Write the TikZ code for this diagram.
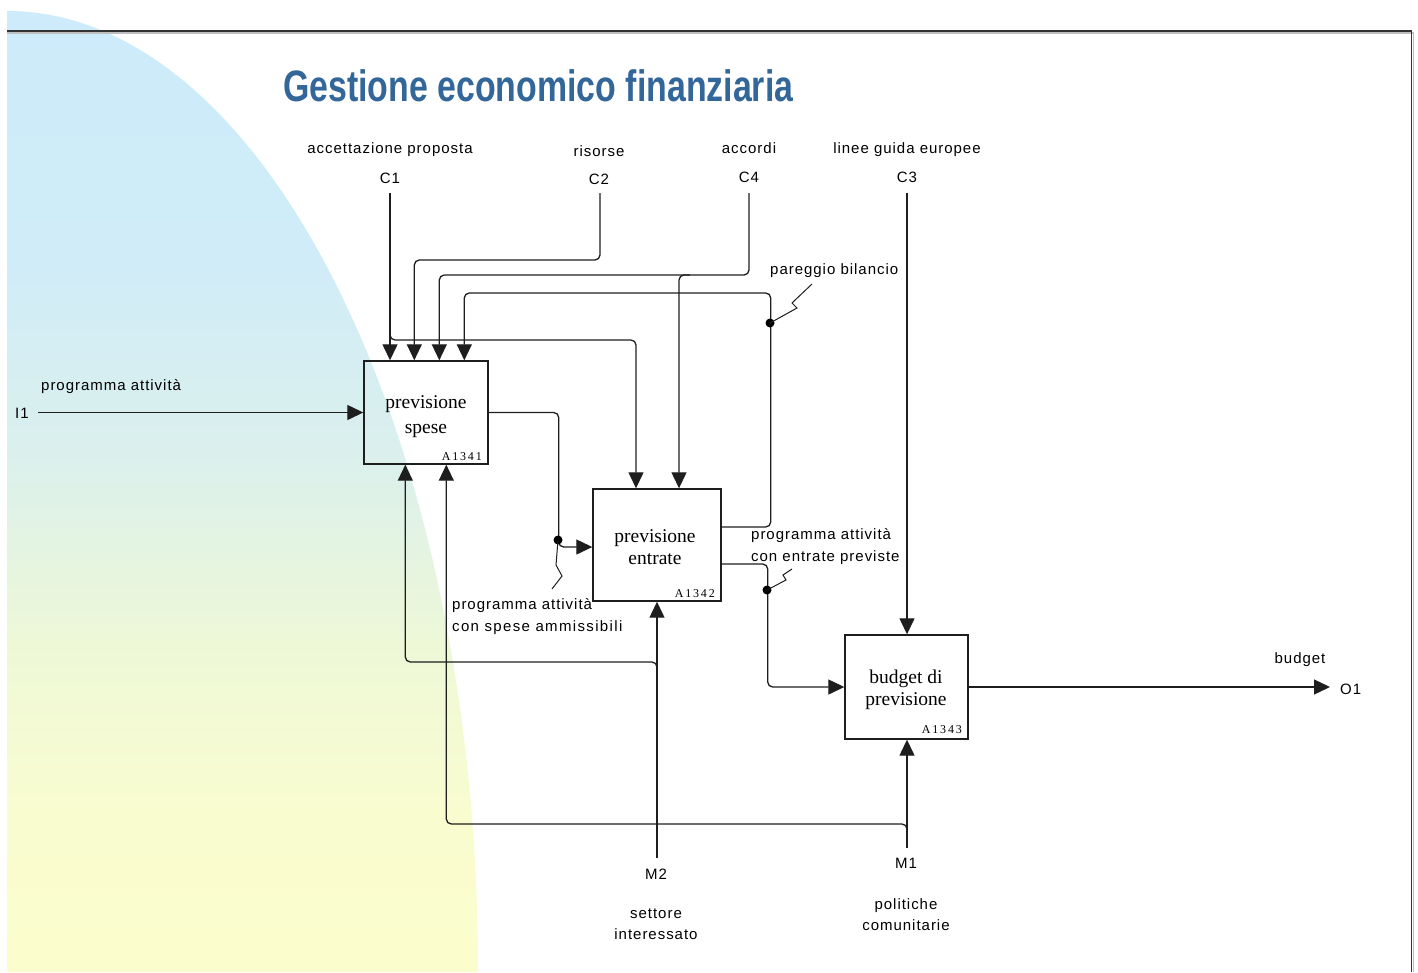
\documentclass[tikz,border=0pt]{standalone}
\usepackage{fontspec}
\usepackage{graphicx}
\setmainfont{Liberation Sans}
\newfontfamily\lblfont[LetterSpace=6.5]{Liberation Sans}
\newfontfamily\boxfont{Liberation Serif}
\newfontfamily\codefont[LetterSpace=15]{Liberation Serif}
\usetikzlibrary{arrows.meta,calc}

\definecolor{titleblue}{RGB}{51,102,153}
\definecolor{ink}{RGB}{30,30,30}
\definecolor{fadeB}{RGB}{205,235,251}
\definecolor{fadeBb}{RGB}{208,236,248}
\definecolor{fadeM}{RGB}{219,240,237}
\definecolor{fadeG}{RGB}{238,248,215}
\definecolor{fadeYy}{RGB}{249,252,207}
\definecolor{fadeY}{RGB}{251,253,205}

% vertical fade for the quarter-ellipse backdrop (box of the path = 25bp..75bp)
\pgfdeclareverticalshading{bgfade}{100bp}{%
  color(0bp)=(fadeY); color(25bp)=(fadeY); color(33bp)=(fadeYy);
  color(42bp)=(fadeG); color(52bp)=(fadeM); color(62bp)=(fadeBb);
  color(75bp)=(fadeB); color(100bp)=(fadeB)}

\tikzset{
  lbl/.style={font=\lblfont\fontsize{15}{18}\selectfont, inner sep=0pt, anchor=base, text=black},
  lblw/.style={lbl, anchor=base west},
  actbox/.style={draw=ink, line width=1.4pt, inner sep=0pt},
  boxtxt/.style={font=\boxfont\fontsize{19.5}{24}\selectfont, inner sep=0pt, anchor=base},
  boxcode/.style={font=\codefont\fontsize{12}{14}\selectfont, inner sep=0pt, anchor=base east},
  flow/.style={draw=ink, line width=1.3pt, rounded corners=5pt},
  tip/.style={-{Triangle[length=16pt,width=15pt]}},
  joint/.style={circle, fill=black, minimum size=9pt, inner sep=0pt},
  bolt/.style={draw=ink, line width=1pt, line join=miter},
}

\begin{document}
\begin{tikzpicture}[x=1pt, y=-1pt]
\useasboundingbox (0,0) rectangle (1418,972);

% backdrop
\shade[shading=bgfade] (7,972) -- (7,11) .. controls (267,11) and (478,441) .. (478,972) -- cycle;

% frame lines with soft shadow
\draw[black!25, line width=1.2pt] (7,33) -- (1413.5,33) -- (1413.5,972);
\draw[black!80, line width=1.3pt] (7,31) -- (1411.5,31) -- (1411.5,972);

% title
\node[anchor=base west, inner sep=0pt, text=titleblue,
      font=\bfseries\fontsize{44}{50}\selectfont] (title) at (283,101)
      {\scalebox{0.77}[1]{Gestione economico finanziaria}};

% activity boxes
\node[actbox, minimum width=124pt, minimum height=103pt] (b1) at (426,412.5) {};
\node[actbox, minimum width=128pt, minimum height=112pt] (b2) at (657,545) {};
\node[actbox, minimum width=123pt, minimum height=104pt] (b3) at (906.5,687) {};

\node[boxtxt] (b1a) at (426,408) {previsione};
\node[boxtxt] (b1b) at (426,433) {spese};
\node[boxcode] (b1c) at (482,460) {A1341};
\node[boxtxt] (b2a) at (655,542) {previsione};
\node[boxtxt] (b2b) at (655,564) {entrate};
\node[boxcode] (b2c) at (715,597) {A1342};
\node[boxtxt] (b3a) at (906,683) {budget di};
\node[boxtxt] (b3b) at (906,705) {previsione};
\node[boxcode] (b3c) at (962,733) {A1343};

% boundary labels
\node[lbl] (l1) at (390,153) {accettazione proposta};
\node[lbl] (c1l) at (390,183) {C1};
\node[lbl] (l2) at (599,156) {risorse};
\node[lbl] (c2l) at (599,184) {C2};
\node[lbl] (l4) at (749,153) {accordi};
\node[lbl] (c4l) at (749,182) {C4};
\node[lbl] (l3) at (907,153) {linee guida europee};
\node[lbl] (c3l) at (907,182) {C3};
\node[lblw] (li) at (41,390) {programma attività};
\node[lblw] (i1l) at (15,418) {I1};
\node[lbl] (lo) at (1300,663) {budget};
\node[lblw] (o1l) at (1340,694) {O1};
\node[lbl] (m2l) at (656,879) {M2};
\node[lbl] (lm2a) at (656,918) {settore};
\node[lbl] (lm2b) at (656,939) {interessato};
\node[lbl] (m1l) at (906,868) {M1};
\node[lbl] (lm1a) at (906,909) {politiche};
\node[lbl] (lm1b) at (906,930) {comunitarie};

% internal arrow labels
\node[lblw] (lp) at (770,274) {pareggio bilancio};
\node[lblw] (le1) at (751,539) {programma attività};
\node[lblw] (le2) at (751,561) {con entrate previste};
\node[lblw] (ls1) at (452,609) {programma attività};
\node[lblw,font=\lblfont\fontsize{15}{18}\selectfont\addfontfeature{LetterSpace=9}] (ls2) at (452,631) {con spese ammissibili};

% free ends of boundary arrows
\coordinate (c1) at (390,193);
\coordinate (c2) at (600,193);
\coordinate (c4) at (749,193);
\coordinate (c3) at (907,193);
\coordinate (i1) at (38,412.5);
\coordinate (o1) at (1330,687);
\coordinate (m2) at (657,858);
\coordinate (m1) at (907,848);

% controls
\draw[flow,tip] (c1) -- (c1 |- b1.north);
\draw[flow,tip] ($(c1)+(0,137)$) -- ($(c1)+(0,147)$) -| ([xshift=-21pt]b2.north);
\draw[flow,tip] (c2) -- ++(0,67) -| ([xshift=51pt]b1.north west);
\draw[flow,tip] (c4) -- ++(0,82) -| ([xshift=76pt]b1.north west);
\draw[flow,tip] ($(c4)+(-59,82)$) -| ([xshift=22pt]b2.north);
\draw[flow,tip] (c3) -- (c3 |- b3.north);

% feedback: pareggio bilancio
\draw[flow,tip] ([yshift=18pt]b2.east) -- ++(49,0) -- ++(0,-234) -| ([xshift=101pt]b1.north west);
\node[joint] (j1) at (770,323) {};
\draw[bolt] (j1.center) -- (797,308) -- (792,303) -- (812,284);

% input and flows between activities
\draw[flow,tip] (i1) -- (i1 -| b1.west);
\draw[flow,tip] (b1.east) -- ++(70,0) |- ([yshift=-2pt]b2.west);
\node[joint] (j2) at (558,540) {};
\draw[bolt] (j2.center) -- (556,565) -- (562,576) -- (552,589);

\draw[flow,tip] ([yshift=-19pt]b2.east) -- ++(46,0) |- (b3.west);
\node[joint] (j3) at (767,590) {};
\draw[bolt] (j3.center) -- (786,580) -- (783,575) -- (792,569);

% output
\draw[flow,tip] (b3.east) -- (o1);

% mechanisms
\draw[flow,tip] (m2) -- (m2 |- b2.south);
\draw[flow,tip] ($(m2)+(0,-186)$) -- ++(0,-10) -| ([xshift=42pt]b1.south west);
\draw[flow,tip] (m1) -- (m1 |- b3.south);
\draw[flow,tip] ($(m1)+(0,-14)$) -- ++(0,-10) -| ([xshift=83pt]b1.south west);

\end{tikzpicture}
\end{document}
